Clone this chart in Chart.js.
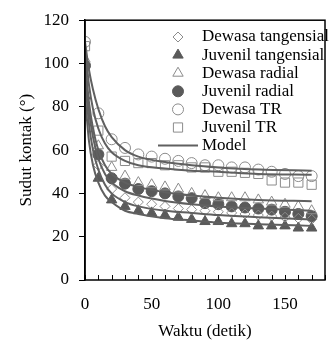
<!DOCTYPE html>
<html><head><meta charset="utf-8">
<script src="https://cdn.jsdelivr.net/npm/chart.js@4.4.0/dist/chart.umd.min.js"></script>
<style>html,body{margin:0;padding:0;background:#fff}</style>
</head><body>
<canvas id="c" width="333" height="342" style="width:333px;height:342px;display:block"></canvas>
<script>
// ---- data ----
const times = [0,10,20,30,40,50,60,70,80,90,100,110,120,130,140,150,160,170];
const dewasaTangensial = [94,53,42,38,36,35,34,33,32.5,32,31.5,31,30.5,30,29.5,29,28.5,28];
const juvenilTangensial = [85,47,37,34,32,31,30,29,28,27,27,26,26,25,25,25,24,24];
const dewasaRadial = [102,62,52,48,45,44,43,42,40,39,38,38,38,37,36,35,34,32];
const juvenilRadial = [99,58,47,44.5,42,41,40,38.6,37.8,35.5,35,34,33.5,33,32.5,31.5,30.5,29.5];
const dewasaTR = [110,77,65,61,58,57,56,55,54,53,53,52,52,51,50,49,48,48];
const juvenilTR = [108,69,57,55,54,54,53,53,52,52,50,50,49.5,49,46,45,45,44];

const modelTimes = [0,3,6,10,15,20,30,40,60,80,100,130,170];
const modelDewasaTangensial = [94,72,60,51,44,40,36,34,32,31,30,29,28];
const modelJuvenilTangensial = [85,64,53,45,39,36,32,30.5,28.5,27.5,26.5,25.8,25];
const modelDewasaRadial = [102,82,70,60,53,49,45,43,40.5,39,38,37,36.4];
const modelJuvenilRadial = [99,78,66,56,49,45,41,39,36.5,35,34,33,32];
const modelDewasaTR = [110,97,88,79,71,66,60,57,54.5,53,52,51,50.5];
const modelJuvenilTR = [108,90,79,70,63,59,55,53,51.5,50.5,50,49,48.6];

const xTickLabels = [0,50,100,150];
const yTickLabels = [0,20,40,60,80,100,120];
const seriesNames = ['Dewasa tangensial','Juvenil tangensial','Dewasa radial','Juvenil radial','Dewasa TR','Juvenil TR','Model'];
const xTitle = 'Waktu (detik)';
const yTitle = 'Sudut kontak (\u00B0)';

// ---- styling ----
const OPEN = '#8c8c8c', FILLED = '#5a5a5a', LINE = '#606060';
const FONT = "'Liberation Serif', 'Times New Roman', serif";
Chart.defaults.font.family = FONT;
Chart.defaults.font.size = 17;
Chart.defaults.color = '#000';
const F = {family: FONT, size: 17};

const pts = (xs, ys) => xs.map((x,i)=>({x, y: ys[i]}));

const markerSpecs = [
  {data: dewasaTangensial, style:'rectRot', fill:false, r:5},
  {data: juvenilTangensial, style:'triangle', fill:true, r:6},
  {data: dewasaRadial, style:'triangle', fill:false, r:6},
  {data: juvenilRadial, style:'circle', fill:true, r:5.5},
  {data: dewasaTR, style:'circle', fill:false, r:5.5},
  {data: juvenilTR, style:'rect', fill:false, r:6.5},
];
const models = [modelDewasaTangensial, modelJuvenilTangensial, modelDewasaRadial, modelJuvenilRadial, modelDewasaTR, modelJuvenilTR];

const datasets = [];
models.forEach((m,i)=>{
  datasets.push({type:'line', label: i===0 ? seriesNames[6] : '_m'+i, data: pts(modelTimes, m),
    borderColor: LINE, borderWidth: 2, pointRadius: 0, cubicInterpolationMode:'monotone', fill:false, order: 0});
});
markerSpecs.forEach((s,i)=>{
  datasets.push({type:'scatter', label: seriesNames[i], data: pts(times, s.data), showLine:false,
    pointStyle: s.style, pointRadius: s.r, pointHoverRadius: s.r,
    pointBackgroundColor: s.fill ? FILLED : 'rgba(0,0,0,0)',
    pointBorderColor: s.fill ? FILLED : OPEN, pointBorderWidth: 1, order: 1});
});

const framePlugin = {
  id:'frame',
  afterDraw(chart){
    const {ctx, chartArea:a, scales} = chart;
    ctx.save();
    // legend
    const lx = 178, tx = 202; let ly = 37;
    ctx.textBaseline = 'middle';
    markerSpecs.forEach((s,i)=>{
      ctx.fillStyle = s.fill ? FILLED : 'rgba(0,0,0,0)';
      ctx.strokeStyle = s.fill ? FILLED : OPEN;
      ctx.lineWidth = 1;
      Chart.helpers.drawPoint(ctx, {pointStyle:s.style, radius:s.r, rotation:0, borderWidth:1}, lx, ly);
      ctx.fillStyle = '#000';
      ctx.font = '17px ' + FONT;
      ctx.fillText(seriesNames[i], tx, ly);
      ly += 18.1;
    });
    ctx.strokeStyle = LINE; ctx.lineWidth = 2;
    ctx.beginPath(); ctx.moveTo(158, ly); ctx.lineTo(198, ly); ctx.stroke();
    ctx.fillStyle = '#000'; ctx.font = '17px ' + FONT; ctx.fillText(seriesNames[6], tx, ly);
    // inward x ticks every 10
    const xs = scales.x;
    ctx.strokeStyle = '#000'; ctx.lineWidth = 1;
    for (let t = 0; t <= 180; t += 10) {
      const px = Math.round(xs.getPixelForValue(t)) + 0.5;
      ctx.beginPath(); ctx.moveTo(px, a.bottom); ctx.lineTo(px, a.bottom - 5); ctx.stroke();
    }
    // frame
    ctx.lineWidth = 1.5;
    ctx.strokeRect(a.left, a.top, a.right - a.left, a.bottom - a.top);
    ctx.restore();
  }
};

new Chart(document.getElementById('c'), {
  data: {datasets},
  options: {
    responsive:false, animation:false, devicePixelRatio:1,
    layout:{padding:{top:16, right:8, left:16, bottom:0}},
    plugins:{legend:{display:false}, tooltip:{enabled:false}},
    scales:{
      x:{type:'linear', min:0, max:180,
        afterBuildTicks(s){ s.ticks = xTickLabels.map(v=>({value:v})); },
        grid:{display:false}, border:{display:false},
        ticks:{padding:6, maxRotation:0, font:F},
        title:{display:true, text:xTitle, font:F, padding:{top:4,bottom:0}},
        afterFit(s){ s.height = 62; }
      },
      y:{type:'linear', min:0, max:120,
        afterBuildTicks(s){ s.ticks = yTickLabels.map(v=>({value:v})); },
        grid:{drawOnChartArea:false, drawTicks:true, tickLength:6, color:'#000'},
        border:{display:true, color:'#000', width:1.5},
        ticks:{padding:10, font:F},
        title:{display:true, text:yTitle, font:F, padding:{top:0,bottom:0}},
        afterFit(s){ s.width = 69; }
      }
    }
  },
  plugins:[framePlugin]
});
</script>
</body></html>
